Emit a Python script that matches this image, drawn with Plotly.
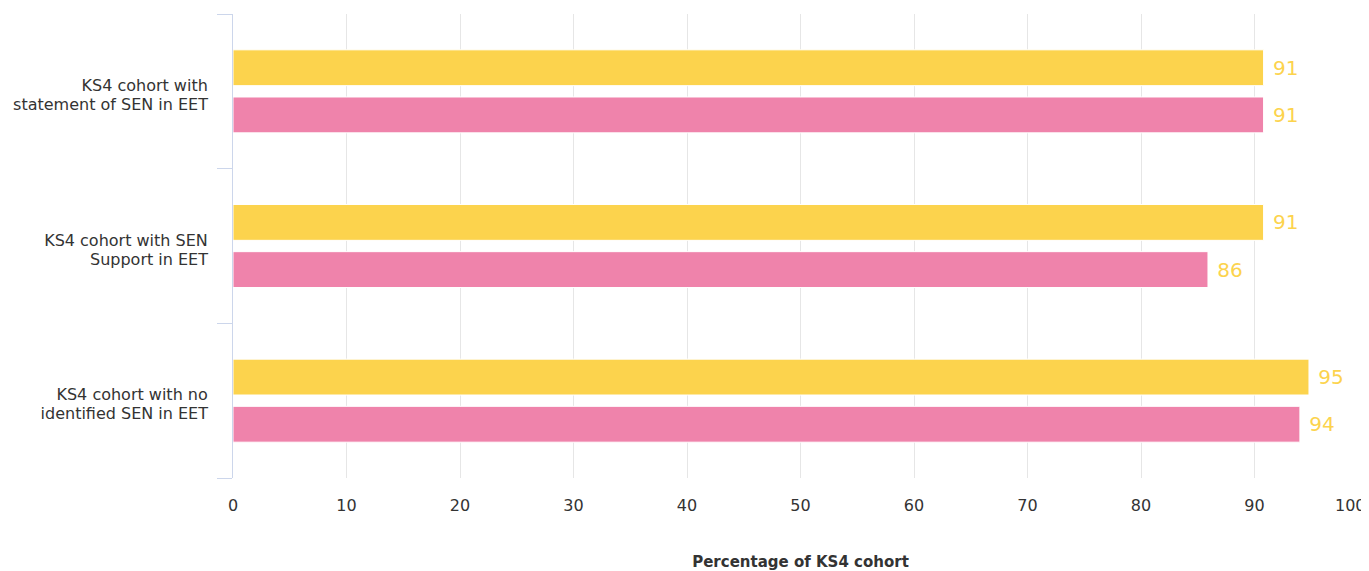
import plotly.graph_objects as go

categories = [
    "KS4 cohort with statement of SEN in EET",
    "KS4 cohort with SEN Support in EET",
    "KS4 cohort with no identified SEN in EET",
]
label_line1 = ["KS4 cohort with", "KS4 cohort with SEN", "KS4 cohort with no"]
label_line2 = ["statement of SEN in EET", "Support in EET", "identified SEN in EET"]
series_a = [90.8, 90.8, 94.8]
series_b = [90.8, 85.9, 94.0]
labels_a = ["91", "91", "95"]
labels_b = ["91", "86", "94"]
x_ticks = [0, 10, 20, 30, 40, 50, 60, 70, 80, 90, 100]

YELLOW = "rgb(252,211,77)"
PINK = "rgb(239,131,171)"
FONT = "DejaVu Sans"
TXT = "#333333"

fig = go.Figure()
for vals, labs, col in [(series_a, labels_a, YELLOW), (series_b, labels_b, PINK)]:
    fig.add_trace(go.Bar(
        y=categories, x=vals, orientation="h",
        marker=dict(color=col, line=dict(color="white", width=1)),
        text=labs, texttemplate="\u00a0%{text}", textposition="outside", cliponaxis=False,
        textfont=dict(color=YELLOW, size=20, family=FONT),
        hoverinfo="x+y",
    ))

# invisible helper trace so the second-line label axis is drawn
fig.add_trace(go.Scatter(
    y=categories, x=series_a, yaxis="y2", mode="markers",
    marker=dict(opacity=0), hoverinfo="skip", showlegend=False,
))

n = len(categories)
fig.update_layout(
    width=1361, height=563,
    margin=dict(l=225, r=1, t=6, b=93),
    paper_bgcolor="white", plot_bgcolor="white",
    barmode="group", bargap=0.39, bargroupgap=0.24,
    showlegend=False,
    font=dict(family=FONT, color=TXT),
    xaxis=dict(
        range=[0, 100], tickvals=x_ticks[:-1],
        showgrid=True, gridcolor="#e6e6e6", gridwidth=1,
        zeroline=False, showline=False, ticks="",
        tickfont=dict(size=16, color=TXT),
        ticklabelstandoff=16, automargin=False,
        title=dict(text="<b>Percentage of KS4 cohort</b>", font=dict(size=15, color=TXT), standoff=51),
        fixedrange=True,
    ),
    yaxis=dict(
        range=[n - 0.5, -0.5], type="category",
        categoryorder="array", categoryarray=categories,
        tickmode="array", tickvals=categories, ticktext=label_line1,
        showline=True, linecolor="#ccd6eb", linewidth=1,
        ticks="outside", tickson="boundaries", ticklen=15, tickcolor="#ccd6eb",
        showgrid=False, zeroline=False,
        tickfont=dict(size=16, color=TXT),
        ticklabelstandoff=21, ticklabelshift=6, automargin=False,
        fixedrange=True,
    ),
    yaxis2=dict(
        overlaying="y", anchor="x", side="left",
        range=[n - 0.5, -0.5], type="category",
        categoryorder="array", categoryarray=categories,
        tickmode="array", tickvals=categories, ticktext=label_line2,
        showline=False, showgrid=False, zeroline=False, ticks="",
        tickfont=dict(size=16, color=TXT),
        ticklabelstandoff=24, ticklabelshift=-13, automargin=False,
        fixedrange=True,
    ),
)

fig.add_annotation(
    x=x_ticks[-1], xref="x", y=0, yref="paper", yshift=-27,
    text=str(x_ticks[-1]), showarrow=False, xanchor="right", yanchor="middle",
    font=dict(size=16, color=TXT, family=FONT),
)

fig.write_html("out.html")
